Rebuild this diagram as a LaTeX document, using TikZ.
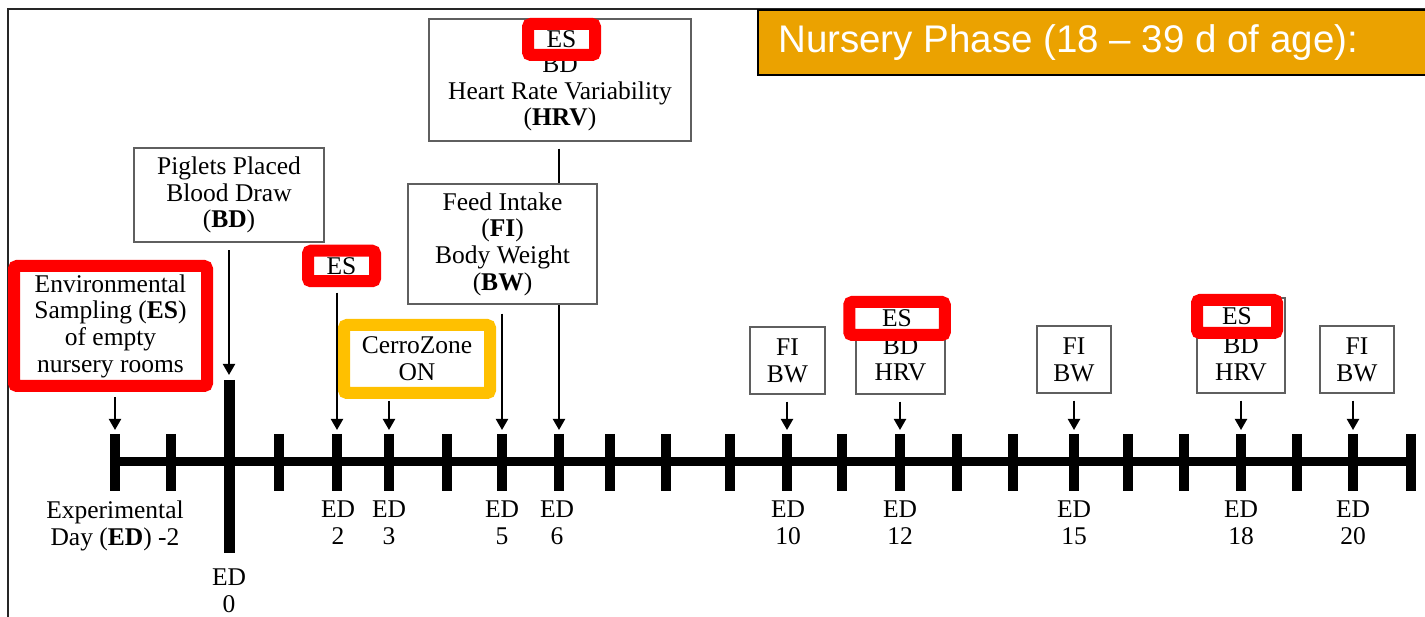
\documentclass[tikz,border=0pt]{standalone}
\usepackage{fontspec}
\setmainfont{Liberation Serif}
\newfontfamily\phasefont{Liberation Sans}
\usetikzlibrary{arrows.meta}

\definecolor{esred}{RGB}{255,0,0}
\definecolor{cerroyellow}{RGB}{255,192,0}
\definecolor{phaseorange}{RGB}{235,162,0}
\definecolor{boxgray}{RGB}{95,95,95}

\tikzset{
  box/.style={draw=boxgray, line width=1.5pt, fill=white, align=center, inner sep=0pt},
  esbox/.style={draw=esred, line width=12pt, rounded corners=3pt, fill=white, align=center, inner sep=0pt},
  cerrobox/.style={draw=cerroyellow, line width=12pt, rounded corners=3pt, fill=white, align=center, inner sep=0pt},
  arr/.style={line width=2pt, -{Triangle[length=11pt,width=12pt]}, shorten >=4pt},
  tickmark/.style={line width=10pt},
  edlab/.style={align=center, inner sep=0pt, anchor=north},
}

\begin{document}
\begin{tikzpicture}[x=1pt, y=-1pt, font=\fontsize{25.5}{26.7}\selectfont]
  \useasboundingbox (0,0) rectangle (1425,617);

  % frame and phase banner
  \draw[line width=1.5pt, black!85] (8,625) -- (8,9) -- (1435,9);
  \draw[fill=phaseorange, line width=2pt] (758,10) rectangle (1440,75);
  \node[anchor=base west, inner sep=0pt, text=white, font=\phasefont\fontsize{38.5}{44}\selectfont] (phase) at (778,53) {Nursery Phase (18 – 39 d of age):};

  % time line
  \foreach \x [count=\d from -2] in {115,171,229,279,337,389,447,502,559,610,666,730,787,842,900,957,1013,1074,1128,1184,1241,1297,1353,1411} {
    \coordinate (t\d) at (\x,434);
    \draw[tickmark] (t\d) -- ++(0,57);
  }
  \draw[line width=9pt] (115,461.5) -- (1411,461.5);
  \coordinate (bar0) at (229,380);
  \draw[line width=11pt] (bar0) -- (229,553);

  % labels under the line
  \node[edlab] (labm2) at (115,501) {Experimental\\Day (\textbf{ED}) -2};
  \node[edlab] (lab0) at (229,569) {ED\\0};
  \foreach \d/\x in {2/338,3/389,5/502,6/557,10/788,12/900,15/1074,18/1241,20/1353}
    \node[edlab] (lab\d) at (\x,501) {ED\\\d};

  % boxes and arrows
  \node[esbox, minimum width=193pt, minimum height=120pt] (env) at (110.5,326) {Environmental\\Sampling (\textbf{ES})\\of empty\\nursery rooms};
  \draw[arr, shorten <=5pt] (env.south -| t-2) -- (t-2);

  \node[box, minimum width=190pt, minimum height=94pt] (piglets) at (229,195) {Piglets Placed\\Blood Draw\\(\textbf{BD})};
  \draw[arr, shorten <=7.5pt, shorten >=5pt] (piglets.south) -- (bar0);

  \node[esbox, minimum width=67pt, minimum height=30.5pt] (es2) at (341.5,266) {ES};
  \draw[arr, shorten <=5.5pt] (es2.south -| t2) -- (t2);

  \node[cerrobox, minimum width=146pt, minimum height=68pt] (cerro) at (417,359) {CerroZone\\ON};
  \draw[arr, shorten <=2pt] (cerro.south -| t3) -- (t3);

  \node[box, minimum width=262pt, minimum height=122pt] (hrv) at (560,80) {\vphantom{ES}\\BD\\Heart Rate Variability\\(\textbf{HRV})};
  \node[esbox, minimum width=67pt, minimum height=31pt] (es6) at (561.5,39.5) {ES};
  \draw[arr, shorten <=7pt] (hrv.south -| t6) -- (t6);

  \node[box, minimum width=189pt, minimum height=120pt] (feed) at (502.5,244) {Feed Intake\\(\textbf{FI})\\Body Weight\\(\textbf{BW})};
  \draw[arr, shorten <=9pt] (feed.south -| t5) -- (t5);

  \node[box, minimum width=75pt, minimum height=67pt] (fibw10) at (787.5,360.5) {FI\\BW};
  \draw[arr, shorten <=7pt] (fibw10.south -| t10) -- (t10);

  \node[box, minimum width=89pt, minimum height=96pt] (bdhrv12) at (900.5,346) {\vphantom{ES}\\BD\\HRV};
  \node[esbox, minimum width=95.5pt, minimum height=33pt] (es12) at (897,318.5) {ES};
  \draw[arr, shorten <=7pt] (bdhrv12.south -| t12) -- (t12);

  \node[box, minimum width=74pt, minimum height=67pt] (fibw15) at (1074,359.5) {FI\\BW};
  \draw[arr, shorten <=7pt] (fibw15.south -| t15) -- (t15);

  \node[box, minimum width=88pt, minimum height=95pt] (bdhrv18) at (1241,345.5) {\vphantom{ES}\\BD\\HRV};
  \node[esbox, minimum width=80pt, minimum height=33pt] (es18) at (1237,316.5) {ES};
  \draw[arr, shorten <=7pt] (bdhrv18.south -| t18) -- (t18);

  \node[box, minimum width=74pt, minimum height=67pt] (fibw20) at (1357,359.5) {FI\\BW};
  \draw[arr, shorten <=7pt] (fibw20.south -| t20) -- (t20);
\end{tikzpicture}
\end{document}
